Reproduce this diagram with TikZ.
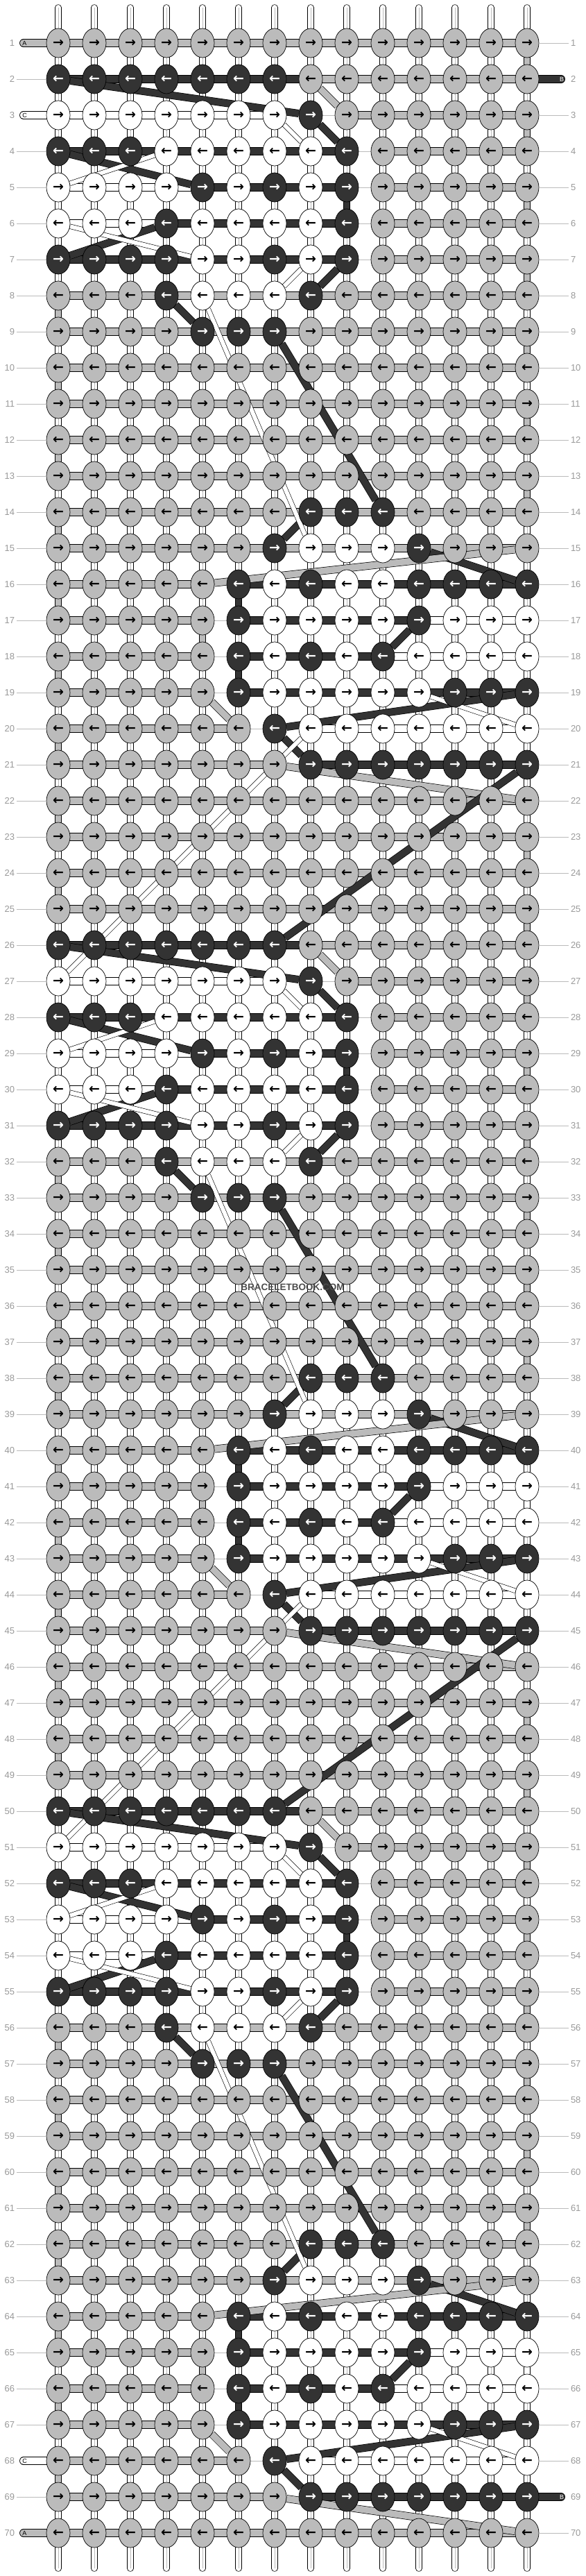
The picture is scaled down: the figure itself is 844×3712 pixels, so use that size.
\documentclass[tikz,border=0pt]{standalone}
\usepackage{fontspec}
\setmainfont{Liberation Sans}
\newfontfamily\arrowfont{DejaVu Sans}
\usepackage{xcolor}
\usepackage{tikz}
\usetikzlibrary{shapes.geometric}

\definecolor{threadA}{HTML}{BBBBBB}
\definecolor{threadB}{HTML}{333333}
\definecolor{threadC}{HTML}{FFFFFF}
\definecolor{labelgray}{HTML}{999999}
\definecolor{tickgray}{HTML}{BBBBBB}

\pgfdeclarelayer{bg}
\pgfsetlayers{bg,main}

% one repeat of the pattern: knot colours and link colours of each row
\newcommand\setmotif[3]{%
  \expandafter\def\csname knots#1\endcsname{#2}%
  \expandafter\def\csname links#1\endcsname{#3}}
\def\allknotsA{A,A,A,A,A,A,A,A,A,A,A,A,A,A}
\def\alllinksA{A,A,A,A,A,A,A,A,A,A,A,A,A}
\setmotif{0}{\allknotsA}{\alllinksA}
\setmotif{1}{B,B,B,B,B,B,B,A,A,A,A,A,A,A}{B,B,B,B,B,B,B,A,A,A,A,A,A}
\setmotif{2}{C,C,C,C,C,C,C,B,A,A,A,A,A,A}{C,C,C,C,C,C,n,n,A,A,A,A,A}
\setmotif{3}{B,B,B,C,C,C,C,C,B,A,A,A,A,A}{B,B,B,B,B,B,B,B,n,A,A,A,A}
\setmotif{4}{C,C,C,C,B,C,B,C,B,A,A,A,A,A}{C,C,C,C,B,B,B,B,n,A,A,A,A}
\setmotif{5}{C,C,C,B,C,C,C,C,B,A,A,A,A,A}{C,C,C,B,B,B,B,B,n,A,A,A,A}
\setmotif{6}{B,B,B,B,C,C,B,C,B,A,A,A,A,A}{B,B,B,B,B,B,B,B,n,A,A,A,A}
\setmotif{7}{A,A,A,B,C,C,C,B,A,A,A,A,A,A}{\alllinksA}
\setmotif{8}{A,A,A,A,B,B,B,A,A,A,A,A,A,A}{\alllinksA}
\setmotif{9}{\allknotsA}{\alllinksA}
\setmotif{10}{\allknotsA}{\alllinksA}
\setmotif{11}{\allknotsA}{\alllinksA}
\setmotif{12}{\allknotsA}{\alllinksA}
\setmotif{13}{A,A,A,A,A,A,A,B,B,B,A,A,A,A}{\alllinksA}
\setmotif{14}{A,A,A,A,A,A,B,C,C,C,B,A,A,A}{\alllinksA}
\setmotif{15}{A,A,A,A,A,B,C,B,C,C,B,B,B,B}{A,A,A,A,n,B,B,B,B,B,B,B,B}
\setmotif{16}{A,A,A,A,A,B,C,C,C,C,B,C,C,C}{A,A,A,A,n,B,B,B,B,B,C,C,C}
\setmotif{17}{A,A,A,A,A,B,C,B,C,B,C,C,C,C}{A,A,A,A,n,B,B,B,B,C,C,C,C}
\setmotif{18}{A,A,A,A,A,B,C,C,C,C,C,B,B,B}{A,A,A,A,n,B,B,B,B,B,B,B,B}
\setmotif{19}{A,A,A,A,A,A,B,C,C,C,C,C,C,C}{A,A,A,A,A,n,n,C,C,C,C,C,C}
\setmotif{20}{A,A,A,A,A,A,A,B,B,B,B,B,B,B}{A,A,A,A,A,A,n,B,B,B,B,B,B}

\tikzset{
  knot/.style={ellipse, draw=black, line width=0.7pt, minimum width=34pt,
    minimum height=42pt, inner sep=0pt,
    font=\arrowfont\bfseries\fontsize{19}{19}\selectfont},
  knotA/.style={fill=threadA, text=black},
  knotB/.style={fill=threadB, text=white},
  knotC/.style={fill=threadC, text=black},
  link/.style={draw=black, line width=0.7pt, double=#1, double distance=10.5pt,
    shorten <=-3pt, shorten >=-3pt},
  linkA/.style={link=threadA},
  linkB/.style={link=threadB},
  linkC/.style={link=threadC},
  linkn/.style={draw=tickgray, line width=0.8pt},
  strand/.style={draw=black, line width=0.7pt, double=white, double distance=8pt},
  strandcore/.style={draw=threadA, line width=0.8pt},
  turn/.style={draw=black, line width=0.7pt, double=#1, double distance=8.5pt,
    shorten <=-2pt, shorten >=-2pt},
  carry/.style={draw=black, line width=0.7pt, double=#1, double distance=9.5pt},
  carrythin/.style={draw=black, line width=0.6pt, double=white, double distance=6pt},
  stub/.style={draw=black, line width=0.7pt, double=#1, double distance=10.5pt,
    line cap=round},
  stubtext/.style={font=\fontsize{9}{9}\selectfont, inner sep=0pt},
  rownum/.style={text=labelgray, font=\fontsize{13}{13}\selectfont,
    inner sep=0pt, outer sep=3pt},
  tick/.style={draw=tickgray, line width=0.8pt},
}

\begin{document}
\begin{tikzpicture}[x=1pt, y=-1pt]
\useasboundingbox (0,0) rectangle (844,3712);

% knots
\foreach \r in {1,...,70} {
  \pgfmathtruncatemacro\m{(\r>1)*(\r<70)*(mod(\r-2,24)<20)*(mod(\r-2,24)+1)}
  \edef\klist{\csname knots\m\endcsname}
  \ifodd\r\relax \def\arr{→}\else \def\arr{←}\fi
  \foreach \kc [count=\c] in \klist
    \node[knot, knot\kc] (k\r-\c) at ({32+52*\c}, {10+52*\r}) {\arr};
}

\begin{pgfonlayer}{bg}
% strings
\foreach \c in {1,...,14} {
  \coordinate (top-\c) at ({32+52*\c}, 11);
  \coordinate (bot-\c) at ({32+52*\c}, 3701);
  \draw[strand, line cap=round, shorten >=-2pt] (top-\c) -- (k1-\c);
  \draw[strandcore] (top-\c) -- (k1-\c);
  \draw[strand, line cap=round, shorten <=-2pt] (k70-\c) -- (bot-\c);
  \draw[strandcore] (k70-\c) -- (bot-\c);
  \foreach \r in {1,...,69} {
    \pgfmathtruncatemacro\rr{\r+1}
    \draw[strand, shorten <=-2pt, shorten >=-2pt] (k\r-\c) -- (k\rr-\c);
    \draw[strandcore] (k\r-\c) -- (k\rr-\c);
  }
}

% working thread turning at the edges
\foreach \r in {1,3,...,13,23,25,...,37,47,49,...,61} {
  \pgfmathtruncatemacro\rr{\r+1}
  \draw[turn=threadA] (k\r-14) -- (k\rr-14);
}
\foreach \r in {8,10,...,24,32,34,...,48,56,58,...,68} {
  \pgfmathtruncatemacro\rr{\r+1}
  \draw[turn=threadA] (k\r-1) -- (k\rr-1);
}
\foreach \o in {0,24,48}
  \foreach \r/\c/\t in {5/9/B,16/6/B,18/6/B,17/5/A,17/14/C} {
    \pgfmathtruncatemacro\ra{\r+\o}
    \pgfmathtruncatemacro\rb{\r+\o+1}
    \draw[turn=thread\t] (k\ra-\c) -- (k\rb-\c);
  }

% links along the rows
\foreach \r in {1,...,70} {
  \pgfmathtruncatemacro\m{(\r>1)*(\r<70)*(mod(\r-2,24)<20)*(mod(\r-2,24)+1)}
  \edef\llist{\csname links\m\endcsname}
  \foreach \lc [count=\c] in \llist {
    \pgfmathtruncatemacro\cc{\c+1}
    \draw[link\lc] (k\r-\c) -- (k\r-\cc);
  }
}

% carried threads
\foreach \o in {0,24,48} {
  \foreach \ra/\ca/\rb/\cb/\t in {2/1/3/8/B,3/8/4/9/B,4/1/5/5/B,6/4/7/1/B,
      7/9/8/8/B,8/4/9/5/B,9/7/14/10/B,14/8/15/7/B,15/11/16/14/B,17/11/18/10/B,
      19/14/20/7/B,20/7/21/8/B,2/8/3/9/A,15/14/16/5/A,19/5/20/6/A,21/7/22/14/A} {
    \pgfmathtruncatemacro\rA{\ra+\o}
    \pgfmathtruncatemacro\rB{\rb+\o}
    \draw[carry=thread\t] (k\rA-\ca) -- (k\rB-\cb);
  }
  \foreach \ra/\ca/\rb/\cb in {3/7/4/8,4/4/5/1,6/1/7/5,7/8/8/7,8/5/15/8,19/11/20/14} {
    \pgfmathtruncatemacro\rA{\ra+\o}
    \pgfmathtruncatemacro\rB{\rb+\o}
    \draw[carrythin] (k\rA-\ca) -- (k\rB-\cb);
  }
}
\foreach \o in {0,24} {
  \pgfmathtruncatemacro\rA{21+\o}
  \pgfmathtruncatemacro\rB{26+\o}
  \draw[carry=threadB] (k\rA-14) -- (k\rB-7);
  \pgfmathtruncatemacro\rA{20+\o}
  \pgfmathtruncatemacro\rB{27+\o}
  \draw[carrythin] (k\rA-8) -- (k\rB-1);
}

% loose ends
\coordinate (sl-1) at (34,62);
\coordinate (sl-3) at (34,166);
\coordinate (sr-2) at (809,114);
\coordinate (sl-68) at (34,3546);
\coordinate (sr-69) at (809,3598);
\coordinate (sl-70) at (34,3650);
\draw[stub=threadA] (k1-1) -- (sl-1);
\draw[stub=threadC] (k3-1) -- (sl-3);
\draw[stub=threadB] (k2-14) -- (sr-2);
\draw[stub=threadC] (k68-1) -- (sl-68);
\draw[stub=threadB] (k69-14) -- (sr-69);
\draw[stub=threadA] (k70-1) -- (sl-70);
\end{pgfonlayer}

\node[stubtext, xshift=1.5pt] (ta-1) at (sl-1) {A};
\node[stubtext, xshift=1.5pt] (tc-3) at (sl-3) {C};
\node[stubtext, text=white, xshift=1pt] (tb-2) at (sr-2) {B};
\node[stubtext, xshift=1.5pt] (tc-68) at (sl-68) {C};
\node[stubtext, text=white, xshift=1pt] (tb-69) at (sr-69) {B};
\node[stubtext, xshift=1.5pt] (ta-70) at (sl-70) {A};

% row numbers
\foreach \r in {1,...,70} {
  \node[rownum, anchor=east] (nl-\r) at (24, {10+52*\r}) {\r};
  \node[rownum, anchor=west] (nr-\r) at (820, {10+52*\r}) {\r};
}
\foreach \r in {2,4,5,...,67,69}
  \draw[tick] (nl-\r) -- (k\r-1);
\foreach \r in {1,3,4,...,68,70}
  \draw[tick] (k\r-14) -- (nr-\r);

\node[font=\bfseries\fontsize{13.5}{13.5}\selectfont, text=black!70] (mark) at (422,1855) {BRACELETBOOK.COM};
\end{tikzpicture}
\end{document}
